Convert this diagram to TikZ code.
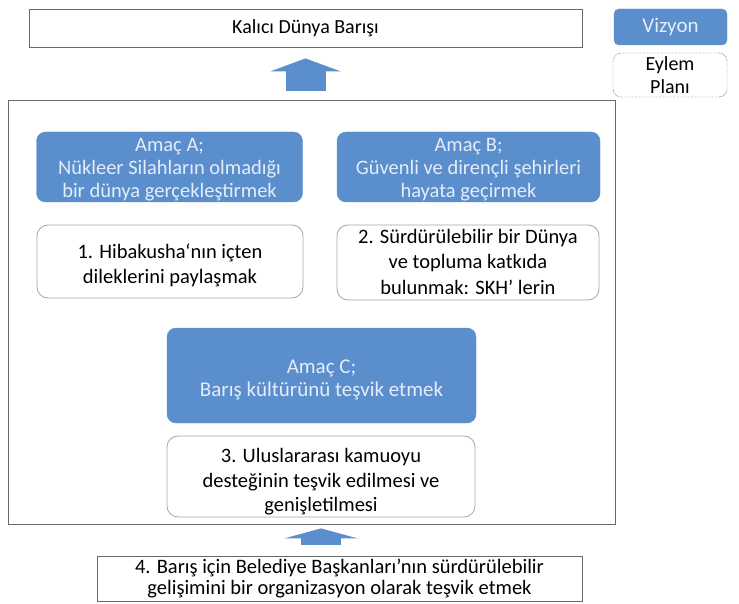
\documentclass[tikz,border=0pt]{standalone}
\usepackage{fontspec}
\setmainfont{Carlito}
\usetikzlibrary{arrows.meta}
\definecolor{bblue}{RGB}{90,142,204}
\definecolor{btext}{RGB}{228,237,249}
\definecolor{lgray}{RGB}{165,165,165}
\definecolor{dgray}{RGB}{105,105,105}
\tikzset{
  bluebox/.style={fill=bblue, draw=bblue, rounded corners=9pt, inner sep=0pt},
  whitebox/.style={fill=white, draw=lgray, line width=0.8pt, rounded corners=11pt, inner sep=0pt},
  plainbox/.style={fill=white, draw=dgray, line width=0.8pt, align=center, inner sep=0pt},
  tx/.style={align=center, inner sep=0pt},
  btx/.style={align=center, inner sep=0pt, text=btext},
  bigarrow/.style={draw=bblue, line width=40pt, -{Triangle[width=70pt,length=13pt]}},
  smallarrow/.style={draw=bblue, line width=40pt, -{Triangle[width=73pt,length=10pt]}},
  fA/.style={font=\fontsize{20.5}{23}\selectfont},
  fB/.style={font=\fontsize{20.5}{24.5}\selectfont},
}
\begin{document}
\begin{tikzpicture}[x=1pt,y=-1pt]
\useasboundingbox (0,0) rectangle (739,604);
% top
\node[plainbox, minimum width=553pt, minimum height=38pt, font=\fontsize{20}{23}\selectfont] (top) at (305.5,28) {Kalıcı Dünya Barışı};
\node[bluebox, rounded corners=5pt, minimum width=113pt, minimum height=36pt, text=btext, font=\fontsize{21}{24}\selectfont] (viz) at (670.5,27) {Vizyon};
\node[fill=white, draw=black, densely dotted, rounded corners=8pt, minimum width=114pt, minimum height=44pt, align=center, inner sep=0pt, font=\fontsize{20}{23}\selectfont] (eyl) at (670,75) {Eylem\\Planı};
% frame
\node[draw=dgray, line width=0.8pt, minimum width=607pt, minimum height=424pt, inner sep=0pt] (frame) at (311.5,312) {};
% goals
\node[bluebox, minimum width=266pt, minimum height=70pt] (A) at (169.5,167) {};
\node[btx, fA] (At) at ([yshift=-2.5pt]A.center) {Amaç A;\\Nükleer Silahların olmadığı\\bir dünya gerçekleştirmek};
\node[bluebox, minimum width=263pt, minimum height=70pt] (B) at (468.5,167) {};
\node[btx, fA] (Bt) at ([yshift=-2.5pt]B.center) {Amaç B;\\Güvenli ve dirençli şehirleri\\hayata geçirmek};
\node[whitebox, minimum width=266pt, minimum height=73pt] (b1) at (170,261.5) {};
\node[tx, fB] (b1t) at ([yshift=-4pt]b1.center) {1. Hibakusha‘nın içten\\dileklerini paylaşmak};
\node[whitebox, minimum width=262pt, minimum height=75pt] (b2) at (468,262.5) {};
\node[tx, fB, font=\fontsize{20.5}{25.5}\selectfont] (b2t) at ([yshift=1pt]b2.center) {2. Sürdürülebilir bir Dünya\\ve topluma katkıda\\bulunmak: SKH’ lerin};
\node[bluebox, minimum width=309pt, minimum height=95pt] (C) at (321.5,375.5) {};
\node[btx, font=\fontsize{21}{23}\selectfont] (Ct) at ([yshift=-4pt]C.center) {Amaç C;\\Barış kültürünü teşvik etmek};
\node[whitebox, minimum width=308pt, minimum height=81pt] (b3) at (321,476.5) {};
\node[tx, fB] (b3t) at ([yshift=-5.5pt]b3.center) {3. Uluslararası kamuoyu\\desteğinin teşvik edilmesi ve\\genişletilmesi};
\node[plainbox, minimum width=485pt, minimum height=45pt, font=\fontsize{20.5}{21.5}\selectfont] (b4) at (339.5,578.5) {4. Barış için Belediye Başkanları'nın sürdürülebilir\\gelişimini bir organizasyon olarak teşvik etmek};
% arrows
\draw[bigarrow, shorten <=9pt, shorten >=11pt] (top.south |- frame.north) -- (top.south);
\draw[smallarrow, shorten <=11pt, shorten >=4pt] (b3.south |- b4.north) -- (b3.south |- frame.south);
\end{tikzpicture}
\end{document}
